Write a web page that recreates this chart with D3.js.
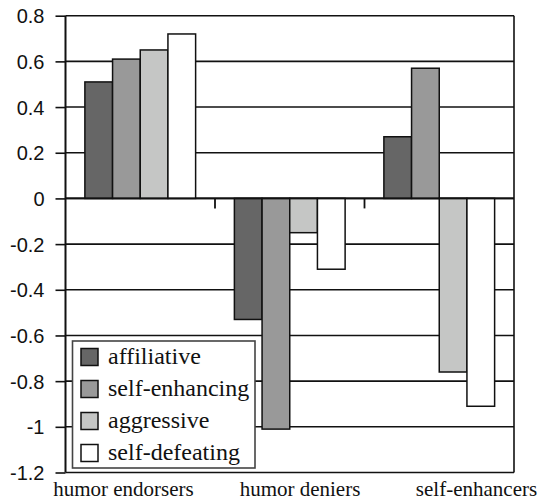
<!DOCTYPE html>
<html><head><meta charset="utf-8">
<script src="https://cdn.jsdelivr.net/npm/d3@7/dist/d3.min.js"></script>
</head><body style="margin:0">
<svg id="c" width="546" height="501"></svg>
<script>
const categories = ["humor endorsers", "humor deniers", "self-enhancers"];
const seriesNames = ["affiliative", "self-enhancing", "aggressive", "self-defeating"];
const affiliative = [0.51, -0.53, 0.27];
const selfEnhancing = [0.61, -1.01, 0.57];
const aggressive = [0.65, -0.15, -0.76];
const selfDefeating = [0.72, -0.31, -0.91];
const yTicks = [0.8, 0.6, 0.4, 0.2, 0, -0.2, -0.4, -0.6, -0.8, -1, -1.2];
const yTickLabels = ["0.8", "0.6", "0.4", "0.2", "0", "-0.2", "-0.4", "-0.6", "-0.8", "-1", "-1.2"];
const colors = ["#666666", "#999999", "#c5c6c5", "#ffffff"];

const SERIF = "Liberation Serif";
const series = [affiliative, selfEnhancing, aggressive, selfDefeating];
const svg = d3.select("#c");
const L = 65.5, R = 514, T = 15.7, B = 472.5;

const y = d3.scaleLinear().domain([-1.2, 0.8]).range([B, T]);
const x0 = d3.scaleBand().domain(categories).range([L, R]).paddingInner(0).paddingOuter(0);
const x1 = d3.scaleBand().domain(seriesNames).range([0, x0.bandwidth()]).paddingOuter(0.7).paddingInner(0);

// gridlines
svg.append("g").selectAll("line").data(yTicks).join("line")
  .attr("x1", L).attr("x2", R)
  .attr("y1", d => y(d)).attr("y2", d => y(d))
  .attr("stroke", "#111").attr("stroke-width", 1.6);

// bars
const groups = svg.append("g").selectAll("g").data(categories).join("g")
  .attr("transform", c => `translate(${x0(c)},0)`);
groups.selectAll("rect").data((c, ci) => seriesNames.map((s, si) => ({s, si, v: series[si][ci]})))
  .join("rect")
  .attr("x", d => x1(d.s))
  .attr("width", x1.bandwidth())
  .attr("y", d => y(Math.max(0, d.v)))
  .attr("height", d => Math.abs(y(d.v) - y(0)))
  .attr("fill", d => colors[d.si])
  .attr("stroke", "#111").attr("stroke-width", 1.5);

// zero axis + category ticks
svg.append("line").attr("x1", L).attr("x2", R).attr("y1", y(0)).attr("y2", y(0))
  .attr("stroke", "#111").attr("stroke-width", 1.8);
svg.append("g").selectAll("line").data(categories.slice(1)).join("line")
  .attr("x1", c => x0(c)).attr("x2", c => x0(c))
  .attr("y1", y(0)).attr("y2", y(0) + 10)
  .attr("stroke", "#111").attr("stroke-width", 1.8);

// plot frame
svg.append("line").attr("x1", L).attr("x2", L).attr("y1", T).attr("y2", B).attr("stroke", "#111").attr("stroke-width", 2);
svg.append("line").attr("x1", R).attr("x2", R).attr("y1", T).attr("y2", B).attr("stroke", "#111").attr("stroke-width", 1.6);

// y axis
const yAxis = d3.axisLeft(y).tickValues(yTicks).tickSize(10).tickPadding(11)
  .tickFormat((d, i) => yTickLabels[i]);
const ga = svg.append("g").attr("transform", `translate(${L},0)`).call(yAxis);
ga.attr("font-family", null).attr("font-size", null);
ga.select(".domain").remove();
ga.selectAll(".tick line").attr("stroke", "#111").attr("stroke-width", 1.6);
ga.selectAll(".tick text")
  .style("font-family", "Liberation Sans").style("font-size", "20px")
  .attr("fill", "#111").attr("dy", "0.35em");

// category labels
const xl = d3.scalePoint().domain(categories).range([123.5, 476.5]);
svg.selectAll("text.cat").data(categories).join("text")
  .attr("class", "cat")
  .attr("x", c => xl(c)).attr("y", 496)
  .attr("text-anchor", "middle")
  .style("font-family", SERIF).style("font-size", "21px").attr("fill", "#111")
  .text(c => c);

// legend
svg.append("rect").attr("x", 72.5).attr("y", 341).attr("width", 182.5).attr("height", 127)
  .attr("fill", "#fff").attr("stroke", "#444").attr("stroke-width", 1.6);
const ly = d3.scalePoint().domain(seriesNames).range([357, 453]);
svg.selectAll("rect.sw").data(seriesNames).join("rect")
  .attr("class", "sw")
  .attr("x", 81).attr("y", s => ly(s) - 8.5).attr("width", 17).attr("height", 17)
  .attr("fill", (s, i) => colors[i]).attr("stroke", "#111").attr("stroke-width", 1.5);
svg.selectAll("text.lg").data(seriesNames).join("text")
  .attr("class", "lg")
  .attr("x", 108).attr("y", s => ly(s)).attr("dy", "0.3em")
  .style("font-family", SERIF).style("font-size", "24px").attr("fill", "#111")
  .text(s => s);
</script>
</body></html>
